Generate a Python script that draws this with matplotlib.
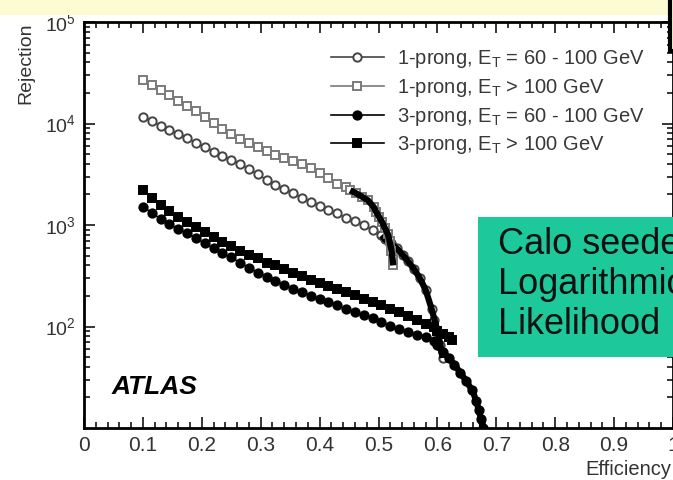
import numpy as np
import matplotlib.pyplot as plt
from matplotlib.patches import Rectangle
from matplotlib.ticker import FixedLocator, FuncFormatter, LogLocator, NullFormatter

plt.rcParams['font.family'] = ['Liberation Sans', 'DejaVu Sans']
plt.rcParams['mathtext.fontset'] = 'custom'
plt.rcParams['mathtext.rm'] = 'Liberation Sans'
plt.rcParams['mathtext.it'] = 'Liberation Sans:italic'
plt.rcParams['mathtext.bf'] = 'Liberation Sans:bold'

# 1-prong, ET = 60 - 100 GeV (open circles)
eff_1p_low = [0.100, 0.115, 0.130, 0.145, 0.160, 0.175, 0.190, 0.205, 0.220, 0.235,
              0.250, 0.265, 0.280, 0.295, 0.310, 0.325, 0.340, 0.355, 0.370, 0.385,
              0.400, 0.415, 0.430, 0.445, 0.460, 0.475, 0.490, 0.505,
              0.511, 0.521, 0.531, 0.541, 0.550, 0.560, 0.570, 0.580, 0.590, 0.595,
              0.600, 0.605, 0.609]
rej_1p_low = [11500, 10500, 9550, 8700, 7900, 7250, 6450, 5900, 5250, 4800,
              4350, 4000, 3550, 3150, 2800, 2500, 2250, 2050, 1850, 1700,
              1550, 1400, 1300, 1170, 1100, 1000, 890, 790,
              720, 660, 590, 510, 440, 370, 300, 230, 150, 117,
              91, 66, 49]

# 1-prong, ET > 100 GeV (grey open squares)
eff_1p_high = [0.100, 0.115, 0.130, 0.145, 0.160, 0.175, 0.190, 0.205, 0.220, 0.235,
               0.250, 0.265, 0.280, 0.295, 0.310, 0.325, 0.340, 0.355, 0.370, 0.385,
               0.400, 0.415, 0.430, 0.445,
               0.452, 0.462, 0.472, 0.482, 0.492, 0.496, 0.501, 0.506, 0.511, 0.516,
               0.519, 0.522, 0.524, 0.525]
rej_1p_high = [26900, 24000, 21400, 19000, 16600, 14800, 13200, 11500, 10200, 8900,
               7900, 7100, 6450, 5900, 5400, 4900, 4600, 4250, 4000, 3650,
               3250, 2900, 2550, 2350,
               2200, 2050, 1900, 1750, 1500, 1350, 1200, 1070, 930, 810,
               690, 560, 460, 400]

# 3-prong, ET > 100 GeV (filled squares)
eff_3p_high = [0.100, 0.115, 0.130, 0.145, 0.160, 0.175, 0.190, 0.205, 0.220, 0.235,
               0.250, 0.265, 0.280, 0.295, 0.310, 0.325, 0.340, 0.355, 0.370, 0.385,
               0.400, 0.415, 0.430, 0.445, 0.460, 0.475, 0.490, 0.505, 0.520, 0.535,
               0.550, 0.565, 0.580, 0.595,
               0.600, 0.609, 0.619, 0.625]
rej_3p_high = [2190, 1860, 1580, 1380, 1200, 1070, 955, 850, 760, 675,
               615, 560, 510, 470, 425, 400, 365, 340, 315, 290,
               270, 250, 235, 220, 205, 185, 175, 163, 150, 138,
               126, 115, 105, 98,
               91, 85, 78, 74]

# 3-prong, ET = 60 - 100 GeV (filled circles)
eff_3p_low = [0.100, 0.115, 0.130, 0.145, 0.160, 0.175, 0.190, 0.205, 0.220, 0.235,
              0.250, 0.265, 0.280, 0.295, 0.310, 0.325, 0.340, 0.355, 0.370, 0.385,
              0.400, 0.415, 0.430, 0.445, 0.460, 0.475, 0.490, 0.505, 0.520, 0.535,
              0.550, 0.565, 0.580, 0.595,
              0.600, 0.609, 0.619, 0.629, 0.639, 0.649, 0.659, 0.666, 0.670, 0.674, 0.677]
rej_3p_low = [1510, 1320, 1150, 1020, 910, 830, 740, 660, 590, 525,
              480, 425, 380, 340, 310, 280, 257, 235, 219, 200,
              186, 174, 162, 148, 138, 129, 120, 110, 102, 95,
              89, 83, 78, 72,
              65, 56, 49, 42, 35, 29, 23.5, 18.6, 15.1, 12.3, 10]

labels = [r'1-prong, E$_\mathrm{T}$ = 60 - 100 GeV',
          r'1-prong, E$_\mathrm{T}$ > 100 GeV',
          r'3-prong, E$_\mathrm{T}$ = 60 - 100 GeV',
          r'3-prong, E$_\mathrm{T}$ > 100 GeV']

box_lines = ['Calo seeded', 'Logarithmic', 'Likelihood']

fig = plt.figure(figsize=(6.73, 4.8), dpi=100)
fig.patch.set_facecolor('white')

# slide decorations
fig.patches.append(Rectangle((0, 1 - 15 / 480), 669 / 673, 15 / 480, transform=fig.transFigure,
                             facecolor='#fdfbd2', edgecolor='none', zorder=0))
fig.patches.append(Rectangle((670 / 673, 1 - 51 / 480), 0.05, 0.2, transform=fig.transFigure,
                             facecolor='#fdfbd2', edgecolor='black', lw=3, zorder=5))

ax = fig.add_axes([84 / 673, 1 - 428 / 480, 589 / 673, 406 / 480])
ax.set_yscale('log')
ax.set_xlim(0, 1)
ax.set_ylim(10, 1e5)

styles = [
    (eff_1p_low, rej_1p_low, 'o', 'white', '#444444', 0.50),
    (eff_1p_high, rej_1p_high, 's', 'white', '#7a7a7a', 0.45),
    (eff_3p_low, rej_3p_low, 'o', 'black', 'black', 0.60),
    (eff_3p_high, rej_3p_high, 's', 'black', 'black', 9.0),
]
handles = []
for (ex, ry, mk, fc, ec, thick_from), lab in zip(styles, labels):
    ex = np.array(ex)
    ry = np.array(ry)
    h, = ax.plot(ex, ry, color=ec if fc == 'white' else 'black', lw=1.2,
                 marker=mk, ms=6, mfc=fc, mec=ec, mew=1.4, label=lab)
    tail = ex >= thick_from
    if tail.any():
        ax.plot(ex[tail], ry[tail], color='black', lw=4.5, solid_capstyle='butt')
    handles.append(h)

leg = ax.legend(handles=handles, loc='upper left', bbox_to_anchor=(0.405, 0.955),
                frameon=False, fontsize=14.5, handlelength=2.65, handletextpad=0.65,
                labelspacing=0.33, borderaxespad=0)
for t in leg.get_texts():
    t.set_color('#383838')

ax.xaxis.set_major_locator(FixedLocator(np.arange(0, 1.01, 0.1)))
ax.xaxis.set_minor_locator(FixedLocator(np.arange(0, 1.001, 0.02)))
ax.xaxis.set_major_formatter(FuncFormatter(
    lambda v, p: '0' if abs(v) < 1e-9 else ('1' if abs(v - 1) < 1e-9 else f'{v:.1f}')))
ax.yaxis.set_major_locator(FixedLocator([1e2, 1e3, 1e4, 1e5]))
ax.yaxis.set_minor_locator(LogLocator(base=10, subs=np.arange(2, 10)))
ax.yaxis.set_minor_formatter(NullFormatter())
ax.yaxis.set_major_formatter(FuncFormatter(lambda v, p: r'$10^{%d}$' % round(np.log10(v))))

ax.tick_params(which='both', direction='in', top=True, right=True, width=1.1,
               labelsize=15, labelcolor='#333333')
ax.tick_params(axis='y', which='major', labelsize=14)
ax.tick_params(which='major', length=8, pad=6)
ax.tick_params(which='minor', length=4)
for s in ax.spines.values():
    s.set_linewidth(2)

ax.set_ylabel('Rejection', fontsize=14, color='#333333', loc='top')
ax.yaxis.set_label_coords(-0.085, 1.0)
ax.set_xlabel('Efficiency', fontsize=14.5, color='#333333', loc='right')
ax.xaxis.set_label_coords(0.997, -0.078)

ax.text(0.047, 0.10, 'ATLAS', transform=ax.transAxes, fontsize=19,
        fontweight='bold', fontstyle='italic', va='center', ha='left')

# green label box on the slide
fig.patches.append(Rectangle((478 / 673, 1 - 357 / 480), 0.4, 140 / 480,
                             transform=fig.transFigure, facecolor='#1dc99a',
                             edgecolor='none', zorder=3))
for i, line in enumerate(box_lines):
    fig.text(498 / 673, 1 - (245 + 40 * i) / 480, line, fontsize=26, color='#111111',
             va='center', ha='left', zorder=6)

fig.savefig('out.png', dpi=100)
